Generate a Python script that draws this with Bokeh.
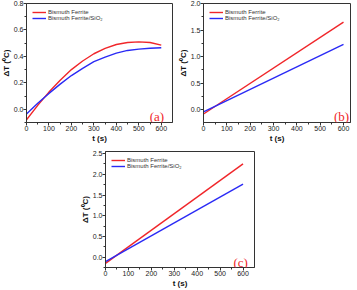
from bokeh.plotting import figure
from bokeh.models import (Range1d, FixedTicker, NumeralTickFormatter, Label,
                          Legend, LegendItem, Spacer)
from bokeh.layouts import column, row
from bokeh.embed import file_html
from bokeh.resources import INLINE

# ---------------- data ----------------
t_a = [0, 50, 100, 150, 200, 250, 300, 350, 400, 450, 500, 550, 600]
bf_a = [-0.08, 0.03, 0.13, 0.22, 0.30, 0.365, 0.42, 0.46, 0.49, 0.505, 0.51, 0.505, 0.485]
bfs_a = [-0.035, 0.045, 0.12, 0.19, 0.255, 0.31, 0.36, 0.395, 0.425, 0.445, 0.455, 0.462, 0.465]

t_b = [0, 600]
bf_b = [-0.08, 1.65]
bfs_b = [-0.04, 1.23]

t_c = [0, 600]
bf_c = [-0.15, 2.25]
bfs_c = [-0.11, 1.76]

x_ticks = [0, 100, 200, 300, 400, 500, 600]
x_minor = [50, 150, 250, 350, 450, 550]
y_ticks_a = [0.0, 0.2, 0.4, 0.6, 0.8]
y_minor_a = [-0.1, 0.1, 0.3, 0.5, 0.7]
y_ticks_b = [0.0, 0.5, 1.0, 1.5, 2.0]
y_minor_b = [-0.25, 0.25, 0.75, 1.25, 1.75]
y_ticks_c = [0.0, 0.5, 1.0, 1.5, 2.0, 2.5]
y_minor_c = [-0.25, 0.25, 0.75, 1.25, 1.75, 2.25]

names = ["Bismuth Ferrite", "Bismuth Ferrite/SiO\u2082"]
tags = ["(a)", "(b)", "(c)"]

RED = "#f0262a"
BLUE = "#2a2af5"
AX = "#333333"


def make(t, r, b, xr, yr, yt, ym, tag, tagx, tagy, w, h, bl, br, bt, bb):
    p = figure(width=w, height=h, output_backend="svg", toolbar_location=None,
               x_range=Range1d(*xr), y_range=Range1d(*yr),
               min_border_left=bl, min_border_right=br,
               min_border_top=bt, min_border_bottom=bb)
    p.grid.visible = False
    p.outline_line_color = AX
    p.outline_line_width = 1
    p.background_fill_color = "white"
    r1 = p.line(t, r, line_color=RED, line_width=1.4)
    r2 = p.line(t, b, line_color=BLUE, line_width=1.4)
    p.xaxis.ticker = FixedTicker(ticks=x_ticks, minor_ticks=x_minor)
    p.yaxis.ticker = FixedTicker(ticks=yt, minor_ticks=ym)
    p.yaxis.formatter = NumeralTickFormatter(format="0.0")
    for ax in (p.xaxis, p.yaxis):
        ax.axis_line_color = AX
        ax.major_tick_line_color = AX
        ax.minor_tick_line_color = AX
        ax.major_tick_out = 3
        ax.major_tick_in = 0
        ax.minor_tick_out = 2
        ax.minor_tick_in = 0
        ax.major_label_text_font = "Liberation Sans"
        ax.major_label_text_font_size = "7px"
        ax.major_label_text_color = "#222222"
        ax.major_label_standoff = 0
        ax.axis_label_text_font = "Liberation Sans"
        ax.axis_label_text_font_size = "8px"
        ax.axis_label_text_font_style = "bold"
        ax.axis_label_text_color = "#111111"
        ax.axis_label_standoff = 0
    p.xaxis.axis_label = "t (s)"
    p.yaxis.axis_label = "\u0394T (\u2070C)"
    leg = Legend(items=[LegendItem(label=names[0], renderers=[r1]),
                        LegendItem(label=names[1], renderers=[r2])],
                 location="top_left")
    leg.label_text_font = "Liberation Sans"
    leg.label_text_font_size = "6px"
    leg.label_text_color = "#333333"
    leg.glyph_width = 14
    leg.glyph_height = 6
    leg.label_height = 6
    leg.label_standoff = 2
    leg.spacing = 0
    leg.padding = 2
    leg.margin = 4
    leg.background_fill_alpha = 0
    leg.border_line_alpha = 0
    p.add_layout(leg)
    p.add_layout(Label(x=tagx, y=tagy, text=tag, text_color=RED,
                       text_font="Liberation Serif", text_font_size="13px",
                       text_align="right", text_baseline="alphabetic"))
    return p


pa = make(t_a, bf_a, bfs_a, (0, 650), (-0.1, 0.8), y_ticks_a, y_minor_a,
          tags[0], 613, -0.055, 181, 150, 30, 5, 8, 22)
pb = make(t_b, bf_b, bfs_b, (0, 630), (-0.24, 2.0), y_ticks_b, y_minor_b,
          tags[1], 624, -0.12, 184, 150, 30, 7, 8, 22)
pb.margin = (0, 0, 0, -4)
pc = make(t_c, bf_c, bfs_c, (0, 650), (-0.25, 2.55), y_ticks_c, y_minor_c,
          tags[2], 621, -0.13, 189, 145, 30, 10, 6, 22)

layout = column(row(pa, pb), row(Spacer(width=79, height=145), pc),
                margin=(-5, 0, 0, -4))

open("out.html", "w").write(file_html(layout, INLINE))
